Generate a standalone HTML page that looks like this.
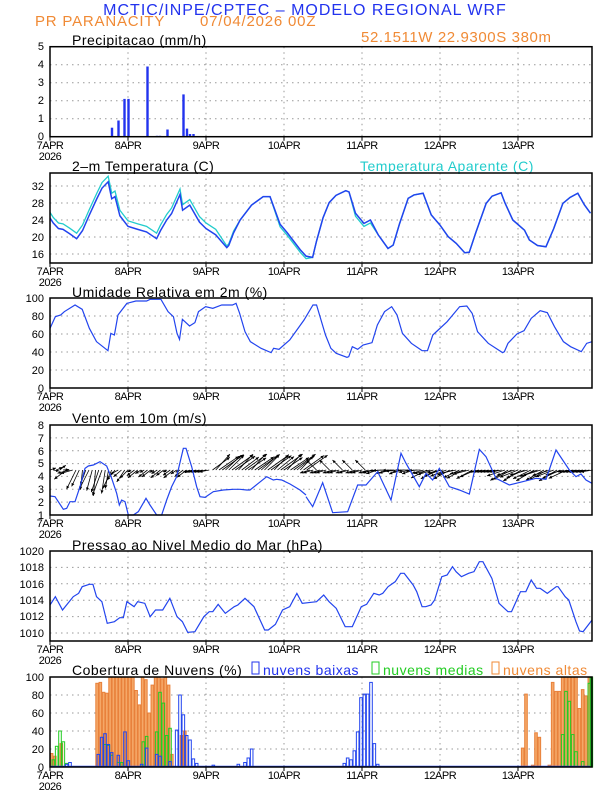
<!DOCTYPE html>
<html><head><meta charset="utf-8"><style>
html,body{margin:0;padding:0;background:#fff;}
svg{display:block;font-family:"Liberation Sans",sans-serif;}
.yl{font-size:11px;text-anchor:end;fill:#000;}
.dl{font-size:11px;text-anchor:middle;fill:#000;letter-spacing:-0.5px;}
.tt{font-size:14px;fill:#000;letter-spacing:0.5px;}
.fr{fill:none;stroke:#000;stroke-width:1.5;}
.g{stroke:#999;stroke-width:1;stroke-dasharray:1.5,4;}
</style></head><body>
<svg id="s" width="612" height="792" viewBox="0 0 612 792" xmlns="http://www.w3.org/2000/svg">
<text x="305" y="15" font-size="16" fill="#2233ee" text-anchor="middle" letter-spacing="1">MCTIC/INPE/CPTEC – MODELO REGIONAL WRF</text>
<text x="35" y="26" font-size="15" fill="#f08a35" letter-spacing="0.8">PR PARANACITY</text>
<text x="200" y="26" font-size="15" fill="#f08a35" letter-spacing="0.8">07/04/2026 00Z</text>
<text x="361" y="42" font-size="15" fill="#f08a35" letter-spacing="0.6">52.1511W 22.9300S 380m</text>

<text class="tt" x="72" y="45">Precipitacao (mm/h)</text>
<text class="tt" x="72" y="171">2–m Temperatura (C)</text>
<text class="tt" x="360" y="171" style="fill:#22cccc">Temperatura Aparente (C)</text>
<text class="tt" x="72" y="297">Umidade Relativa em 2m (%)</text>
<text class="tt" x="72" y="423">Vento em 10m (m/s)</text>
<text class="tt" x="72" y="550">Pressao ao Nivel Medio do Mar (hPa)</text>
<text class="tt" x="72" y="675">Cobertura de Nuvens (%)</text>
<rect x="252" y="662" width="7" height="12" fill="none" stroke="#2233ee"/>
<text x="263" y="675" font-size="14" fill="#2233ee" letter-spacing="0.5">nuvens baixas</text>
<rect x="372" y="662" width="7" height="12" fill="none" stroke="#22cc22"/>
<text x="383" y="675" font-size="14" fill="#22cc22" letter-spacing="0.5">nuvens medias</text>
<rect x="492" y="662" width="7" height="12" fill="none" stroke="#f08a35"/>
<text x="503" y="675" font-size="14" fill="#f08a35" letter-spacing="0.5">nuvens altas</text>

<g class="yl">
<text x="44" y="50">5</text><text x="44" y="68">4</text><text x="44" y="86">3</text><text x="44" y="104">2</text><text x="44" y="122">1</text><text x="44" y="140">0</text>
<text x="44" y="190">32</text><text x="44" y="207">28</text><text x="44" y="224">24</text><text x="44" y="241">20</text><text x="44" y="258">16</text>
<text x="44" y="302">100</text><text x="44" y="320">80</text><text x="44" y="338">60</text><text x="44" y="356">40</text><text x="44" y="374">20</text><text x="44" y="392">0</text>
<text x="44" y="429">8</text><text x="44" y="442">7</text><text x="44" y="455">6</text><text x="44" y="467">5</text><text x="44" y="480">4</text><text x="44" y="493">3</text><text x="44" y="506">2</text><text x="44" y="519">1</text>
<text x="44" y="555">1020</text><text x="44" y="571">1018</text><text x="44" y="588">1016</text><text x="44" y="604">1014</text><text x="44" y="620">1012</text><text x="44" y="637">1010</text>
<text x="44" y="681">100</text><text x="44" y="699">80</text><text x="44" y="717">60</text><text x="44" y="735">40</text><text x="44" y="753">20</text><text x="44" y="771">0</text>
</g>
<g class="dl">
<text x="50" y="149">7APR</text><text x="50" y="160">2026</text><text x="128" y="149">8APR</text><text x="206" y="149">9APR</text><text x="284" y="149">10APR</text><text x="362" y="149">11APR</text><text x="440" y="149">12APR</text><text x="518" y="149">13APR</text>
<text x="50" y="275">7APR</text><text x="50" y="286">2026</text><text x="128" y="275">8APR</text><text x="206" y="275">9APR</text><text x="284" y="275">10APR</text><text x="362" y="275">11APR</text><text x="440" y="275">12APR</text><text x="518" y="275">13APR</text>
<text x="50" y="400">7APR</text><text x="50" y="411">2026</text><text x="128" y="400">8APR</text><text x="206" y="400">9APR</text><text x="284" y="400">10APR</text><text x="362" y="400">11APR</text><text x="440" y="400">12APR</text><text x="518" y="400">13APR</text>
<text x="50" y="527">7APR</text><text x="50" y="538">2026</text><text x="128" y="527">8APR</text><text x="206" y="527">9APR</text><text x="284" y="527">10APR</text><text x="362" y="527">11APR</text><text x="440" y="527">12APR</text><text x="518" y="527">13APR</text>
<text x="50" y="653">7APR</text><text x="50" y="664">2026</text><text x="128" y="653">8APR</text><text x="206" y="653">9APR</text><text x="284" y="653">10APR</text><text x="362" y="653">11APR</text><text x="440" y="653">12APR</text><text x="518" y="653">13APR</text>
<text x="50" y="779">7APR</text><text x="50" y="790">2026</text><text x="128" y="779">8APR</text><text x="206" y="779">9APR</text><text x="284" y="779">10APR</text><text x="362" y="779">11APR</text><text x="440" y="779">12APR</text><text x="518" y="779">13APR</text>
</g>
<g id="dyn"></g>
</svg>
<script>
var NS="http://www.w3.org/2000/svg",G=document.getElementById('dyn');
function el(t,a){var e=document.createElementNS(NS,t);for(var k in a)e.setAttribute(k,a[k]);G.appendChild(e);return e;}
var days=[128,206,284,362,440,518];
function panel(top,bot,ys){
 days.forEach(function(x){el('line',{x1:x,x2:x,y1:top,y2:bot,'class':'g'});});
 ys.forEach(function(y){el('line',{x1:50,x2:592,y1:y,y2:y,'class':'g'});});
}
panel(46.7,136.7,[64.7,82.7,100.7,118.7]);
panel(173,263,[186,203,220,237,254]);
panel(298,388,[316,334,352,370]);
panel(425,515,[437.9,450.7,463.6,476.4,489.3,502.1]);
panel(551,641,[567.4,583.8,600.2,616.6,633]);
panel(677,767,[695,713,731,749]);
[[72,0.03],[75,0.03],[104,0.03],[108,0.03],[112,0.5],[118.5,0.9],[124.5,2.1],[128.5,2.1],[147.5,3.9],[157,0.05],[160,0.05],[167.5,0.4],[183.5,2.35],[187,0.45],[190,0.15],[193.5,0.15]].forEach(function(b){
 var h=b[1]*18;el('rect',{x:b[0]-1.2,y:136.7-h,width:2.4,height:h,fill:'#2233ee'});});
var T=[[0,24.5],[1,23.3],[2.6,22],[4,21.8],[6,20.8],[8.2,19.6],[10,21.5],[12,25],[14.4,29],[16,31.5],[17.9,33],[19,29],[20,29.5],[21.5,25],[24,22.5],[27,21.8],[29.7,21.2],[32.8,19.6],[34,21.5],[35.9,24],[37.4,25.5],[40,30],[40.8,26.3],[43,27.5],[46,23.5],[48,22],[51,20.5],[54.4,17.5],[55,18],[56.5,21],[58.5,24],[62,27.5],[65.6,29.5],[67.7,29.5],[70.8,23],[73,21],[77,17],[78.8,15.5],[80.8,15.2],[82,19],[84,24.5],[85.9,28.1],[88,29.8],[91,30.9],[92,30.6],[94,25.6],[96.6,23.2],[98.6,24],[101,20.5],[104,17.3],[105.6,18.1],[107.5,23],[110.2,29.1],[112,29.9],[114.8,30.3],[117.3,25.2],[120,22.8],[122.5,20.1],[125,18.5],[127.6,16.3],[129,16.4],[131,21],[134.2,27.9],[136,29.6],[138.8,30.4],[140,28],[142.4,24],[146,21.6],[147.5,19.3],[150,18],[152.6,17.7],[155,22],[157.8,27.9],[160,29.3],[162.4,30.3],[164.4,27.6],[166.3,25.6]];
function off(h){if(h<54)return 1.3;if(h<58)return 0.4;if(h>68&&h<80)return -0.6;if(h>93&&h<99)return -0.7;return 0;}
var pb='',pc='';T.forEach(function(p){var x=50+3.25*p[0];pb+=x+','+(254-(p[1]-16)*4.25)+' ';pc+=x+','+(254-(p[1]+off(p[0])-16)*4.25)+' ';});
el('polyline',{points:pc,fill:'none',stroke:'#22cccc','stroke-width':1.3});
el('polyline',{points:pb,fill:'none',stroke:'#2244ee','stroke-width':1.5});
function zline(pts,tx,ty,wide){var s='';pts.forEach(function(p){var x=wide?50+(p[0]-30)/2.795:tx+p[0]/3;s+=x+','+(ty+p[1]/3)+' ';});el('polyline',{points:s,fill:'none',stroke:'#2244ee','stroke-width':1.2});}
zline([[30,115],[45,80],[60,75],[70,65],[100,45],[120,58],[140,115],[160,155],[192,182],[200,130],[210,135],[220,75],[245,40],[270,33],[300,33],[310,28],[340,28],[360,65],[375,80],[385,130],[392,148],[400,88],[420,108],[435,98],[445,65],[465,50],[485,55],[510,45],[540,45],[550,40],[560,70],[575,125],[590,155],[620,175],[648,188],[655,175],[670,178],[700,150],[740,90],[765,45],[775,45],[800,135],[815,175],[830,190],[860,202],[865,200],[875,170],[890,178],[905,165],[930,158],[945,105],[965,65],[985,50],[1000,75],[1015,130],[1040,160],[1070,182],[1085,182],[1100,135],[1115,120],[1140,95],[1175,50],[1195,48],[1210,70],[1225,125],[1255,160],[1295,188],[1300,185],[1310,160],[1335,132],[1355,122],[1375,85],[1400,62],[1420,68],[1440,110],[1465,155],[1485,170],[1515,185],[1530,160],[1545,155]],40,290,true);
zline([[30,180],[45,155],[65,195],[95,155],[110,145],[120,125],[140,118],[150,118],[160,155],[175,170],[190,235],[210,230],[225,218],[235,218],[245,170],[265,185],[275,170],[295,175],[310,215],[325,195],[345,195],[365,160],[385,215],[400,230],[415,262],[435,260],[460,215],[475,200],[485,200],[500,178],[520,205],[545,185],[555,180],[575,160],[600,185],[630,255],[640,255],[660,238],[680,195],[700,185],[720,145],[735,175],[760,172],[775,170],[795,150],[810,170],[830,190],[855,245],[875,245],[900,185],[915,178],[935,145],[950,150],[960,145],[975,125],[995,110],[1010,85],[1020,85],[1045,120],[1055,140],[1070,185],[1080,185],[1095,180],[1105,165],[1125,95],[1140,90],[1155,65],[1165,80],[1180,95],[1200,85],[1215,80],[1230,50],[1240,50],[1265,100],[1285,175],[1310,200],[1320,200],[1345,140],[1360,140],[1375,105],[1390,130],[1400,130],[1420,145],[1445,125],[1450,125],[1470,155],[1480,165],[1500,230],[1510,258],[1520,260],[1545,225]],40,545,true);
function arrow(x1,y1,x2,y2){el('line',{x1:x1,y1:y1,x2:x2,y2:y2,stroke:'#000','stroke-width':0.8});
 var a=Math.atan2(y2-y1,x2-x1),L=3.5;
 el('polygon',{points:x2+','+y2+' '+(x2-L*Math.cos(a-0.45))+','+(y2-L*Math.sin(a-0.45))+' '+(x2-L*Math.cos(a+0.45))+','+(y2-L*Math.sin(a+0.45)),fill:'#000'});}
for(var h=0;h<168;h++){
 var x=50+3.25*h,y=470,dx,dy,s=Math.sin(h*1.7);
 if(h<5){dx=6;dy=-2+s*3;}
 else if(h<8){dx=-12;dy=6+s*4;}
 else if(h<20){dx=-6-4*s;dy=14+6*Math.abs(s)+(h>12&&h<18?6:0);}
 else if(h<25){dx=-8;dy=8+s*4;}
 else if(h<44){dx=-7-3*s;dy=5+s*3;}
 else if(h<50){dx=-10;dy=2;}
 else if(h<80){dx=18+4*s;dy=-12-4*Math.abs(s);}
 else if(h<100){dx=-10;dy=(s>0.7?-10:3);}
 else if(h<116){dx=-12;dy=2+s*2;}
 else if(h<132){dx=-16;dy=6+s*3;}
 else if(h<140){dx=-10;dy=2;}
 else if(h<160){dx=-18;dy=8+s*3;}
 else {dx=-12;dy=2;}
 arrow(x,y,x+dx,y+dy);
}
zline([[150,348],[165,350],[190,388],[200,385],[210,365],[225,365],[240,320],[255,265],[265,258],[280,255],[300,245],[320,258],[335,295],[350,340],[358,375],[365,360],[375,365],[385,405],[400,405],[415,395],[438,355],[450,375],[470,405],[485,405],[500,360],[515,320],[530,290],[550,205],[558,205],[575,260],[590,320],[600,350],[615,352],[640,335],[670,330],[700,328],[720,328],[740,330],[750,330],[775,310],[800,290],[820,300],[830,298],[845,300],[870,312],[900,330],[918,345]],0,380);
zline([[0,230],[20,260],[50,188],[80,278],[125,275],[155,195],[180,195],[215,155],[255,240],[285,100],[300,130],[340,200],[360,160],[380,180],[400,145],[430,200],[460,210],[490,222],[520,88],[540,110],[570,175],[610,195],[650,185],[690,175],[720,178],[750,90],[790,150],[810,170],[825,162],[840,180],[858,190]],306,420);
function bar(x,p,col,fill){var h=p*0.9;el('rect',{x:x-1.3,y:767-h,width:2.6,height:h,fill:fill||'none',stroke:col,'stroke-width':1});}
var or=[[0,15],[1,12],[3,26],[40,35],[41,40]];
var ov=[93,94,83,82,100,100,100,100,100,100,100,100,85,69,100,97,60,91,100,100,98,100,91,14];
ov.forEach(function(v,i){or.push([14+i,v]);});
or.forEach(function(b){bar(50+3.25*b[0]+1.6,b[1],'#e8803a','#f5a868');});
[[650,21],[660,81],[680,2],[690,38],[700,33],[730,2],[740,94],[750,84],[760,84],[770,100],[780,100],[790,100],[800,100],[810,100],[820,65],[830,86],[840,79],[850,100]].forEach(function(b){bar(306+b[0]/3,b[1],'#e8803a','#f5a868');});
[[160,8],[170,23],[180,40],[190,28],[200,4],[315,25],[325,24],[335,13],[355,5],[365,5],[430,28],[440,34],[470,39],[480,83],[490,71],[500,35],[510,43]].forEach(function(b){bar(b[0]/3,b[1],'#22cc22');});
[[770,36],[780,84],[790,73],[800,36],[810,17],[830,6],[850,93],[856,100]].forEach(function(b){bar(306+b[0]/3,b[1],'#22cc22');});
[[200,3],[210,5],[295,14],[305,33],[315,37],[325,25],[335,16],[355,13],[375,39],[385,7],[425,3],[440,21],[470,14],[480,12],[510,6],[530,41],[540,80],[550,58],[560,35],[570,30],[580,9],[590,4],[640,2],[715,3],[735,5],[745,10],[755,20]].forEach(function(b){bar(b[0]/3,b[1],'#2244ee');});
[[115,4],[125,10],[135,8],[145,18],[155,39],[165,77],[175,81],[185,81],[195,94],[205,26],[215,3]].forEach(function(b){bar(306+b[0]/3,b[1],'#2244ee');});
el('line',{x1:50,x2:592,y1:766.5,y2:766.5,stroke:'#2244ee','stroke-width':1.5});
el('line',{x1:591,x2:591,y1:677,y2:767,stroke:'#22aa22','stroke-width':2});
[[46.7,136.7],[173,263],[298,388],[425,515],[551,641],[677,767]].forEach(function(p){
 el('rect',{x:50,y:p[0],width:542,height:p[1]-p[0],'class':'fr'});
 days.concat([50]).forEach(function(x){el('line',{x1:x,x2:x,y1:p[1],y2:p[1]+4,stroke:'#000'});});
});
</script>
</body></html>
